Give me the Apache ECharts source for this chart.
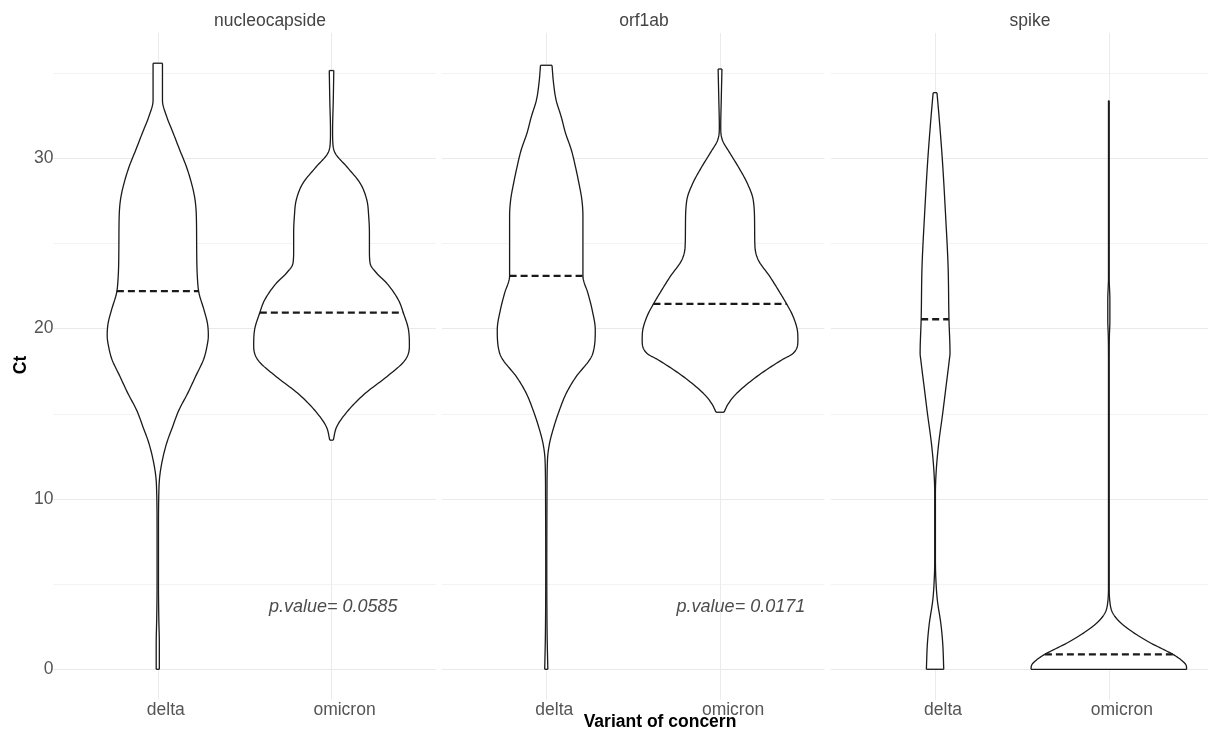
<!DOCTYPE html>
<html>
<head>
<meta charset="utf-8">
<title>Ct by variant of concern</title>
<script src="https://cdn.jsdelivr.net/npm/echarts@6/dist/echarts.min.js"></script>
<style>
  html, body { margin: 0; padding: 0; background: #ffffff; }
  #chart { width: 1208px; height: 731px; }
</style>
</head>
<body>
<div id="chart"></div>
<script>
// ---- data ----------------------------------------------------------------
const panels = ['nucleocapside', 'orf1ab', 'spike'];
const variants = ['delta', 'omicron'];
const yTickValues = [0, 5, 10, 15, 20, 25, 30, 35];
const yLabelValues = [0, 10, 20, 30];

// Violin outlines: [Ct, half-width in category units], bottom to top
const nucleocapsideDelta = [
  [0, 0.009], [1.5, 0.009], [3, 0.006], [5, 0.004], [8, 0.004], [10.3, 0.006],
  [11.3, 0.011], [12.3, 0.027], [13.3, 0.052], [14.2, 0.084], [15.2, 0.121],
  [16.2, 0.172], [17.2, 0.218], [18.2, 0.264], [18.8, 0.280], [19.6, 0.291],
  [20.3, 0.286], [21.1, 0.266], [22.1, 0.237], [23.0, 0.228], [24.6, 0.224],
  [26.6, 0.222], [27.6, 0.214], [28.5, 0.195], [29.5, 0.165], [30.5, 0.126],
  [31.5, 0.088], [32.4, 0.053], [33.4, 0.027], [34.4, 0.027], [35.58, 0.027]
];
const nucleocapsideOmicron = [
  [13.45, 0.010], [14.24, 0.030], [15.22, 0.098], [16.2, 0.194], [17.18, 0.318],
  [18.16, 0.424], [18.95, 0.448], [19.92, 0.443], [20.9, 0.414], [21.68, 0.385],
  [22.66, 0.318], [23.25, 0.260], [23.83, 0.222], [24.6, 0.218], [25.6, 0.218],
  [26.57, 0.214], [27.55, 0.203], [28.53, 0.165], [29.5, 0.088], [30.3, 0.021],
  [31.0, 0.007], [31.6, 0.006], [33.4, 0.010], [35.15, 0.013]
];
const orf1abDelta = [
  [0, 0.009], [2, 0.005], [6, 0.003], [10, 0.004], [12.29, 0.007], [13.27, 0.019],
  [14.24, 0.044], [15.22, 0.076], [16.2, 0.115], [17.18, 0.172], [18.16, 0.249],
  [18.55, 0.268], [19.92, 0.282], [21.1, 0.264], [22.07, 0.240], [23.09, 0.211],
  [24.1, 0.211], [26.6, 0.211], [27.55, 0.205], [28.53, 0.188], [29.5, 0.168],
  [30.5, 0.144], [31.47, 0.111], [32.44, 0.086], [33.4, 0.057], [34.4, 0.042],
  [35.46, 0.033]
];
const orf1abOmicron = [
  [15.09, 0.023], [15.6, 0.048], [16.2, 0.096], [17.18, 0.211], [18.16, 0.355],
  [18.55, 0.421], [19.3, 0.448], [19.73, 0.447], [20.7, 0.421], [21.45, 0.383],
  [22.27, 0.335], [23.05, 0.287], [24.03, 0.220], [24.8, 0.201], [26.0, 0.199],
  [27.55, 0.191], [28.53, 0.157], [29.5, 0.105], [30.3, 0.057], [31.08, 0.013],
  [31.86, 0.004], [33.4, 0.007], [35.24, 0.011]
];
const spikeDelta = [
  [0, 0.050], [1.53, 0.044], [2.7, 0.033], [4.07, 0.013], [5.44, 0.004],
  [6.5, 0.002], [10.3, 0.002], [11.7, 0.007], [13.27, 0.021], [15.03, 0.044],
  [16.59, 0.063], [18.16, 0.082], [18.55, 0.086], [20.55, 0.080], [23.64, 0.075],
  [26.57, 0.061], [29.9, 0.042], [32.44, 0.023], [33.85, 0.011]
];
const spikeOmicron = [
  [0, 0.448], [0.25, 0.444], [0.55, 0.416], [0.88, 0.368], [1.53, 0.243],
  [2.11, 0.148], [2.7, 0.071], [3.29, 0.023], [3.87, 0.007], [5, 0.002],
  [18, 0.002], [19.5, 0.003], [20.5, 0.006], [21.7, 0.006], [23, 0.002],
  [33.38, 0.002]
];

// Median Ct per panel: [delta, omicron]
const medianCt = [[22.2, 20.94], [23.09, 21.45], [20.55, 0.88]];

// Test annotations (nucleocapside, orf1ab)
const pValueText = ['p.value= 0.0585', 'p.value= 0.0171'];
const pValueX = [1.01, 1.12];
const pValueCt = 3.66;

const profiles = [
  [nucleocapsideDelta, nucleocapsideOmicron],
  [orf1abDelta, orf1abOmicron],
  [spikeDelta, spikeOmicron]
];

// ---- layout & style --------------------------------------------------------
const FONT = "'Liberation Sans', Arial, Helvetica, sans-serif";
const panelLeft = [53.5, 442, 830.8];
const panelWidth = 382.3;
const panelTop = 32.9;
const panelHeight = 666.7;
const yMin = -1.78, yMax = 37.36;
const OUTLINE = '#1a1a1a';

// Monotone (Fritsch-Carlson) cubic through an outline, so the drawn edge
// is smooth without overshooting the listed half-widths.
function monotoneCurve(profile) {
  const n = profile.length;
  const x = profile.map(p => p[0]);
  const y = profile.map(p => p[1]);
  const d = [];
  for (let k = 0; k < n - 1; k++) d.push((y[k + 1] - y[k]) / (x[k + 1] - x[k]));
  const m = new Array(n);
  m[0] = d[0];
  m[n - 1] = d[n - 2];
  for (let k = 1; k < n - 1; k++) {
    m[k] = d[k - 1] * d[k] <= 0 ? 0 : (d[k - 1] + d[k]) / 2;
  }
  for (let k = 0; k < n - 1; k++) {
    if (d[k] === 0) { m[k] = 0; m[k + 1] = 0; continue; }
    const a = m[k] / d[k], b = m[k + 1] / d[k];
    const s = a * a + b * b;
    if (s > 9) {
      const t = 3 / Math.sqrt(s);
      m[k] = t * a * d[k];
      m[k + 1] = t * b * d[k];
    }
  }
  function at(ct) {
    let k = 0;
    while (k < n - 2 && ct > x[k + 1]) k++;
    const h = x[k + 1] - x[k];
    const t = Math.min(1, Math.max(0, (ct - x[k]) / h));
    const t2 = t * t, t3 = t2 * t;
    return (2 * t3 - 3 * t2 + 1) * y[k] + (t3 - 2 * t2 + t) * h * m[k] +
           (-2 * t3 + 3 * t2) * y[k + 1] + (t3 - t2) * h * m[k + 1];
  }
  const pts = [];
  for (let k = 0; k < n - 1; k++) {
    const steps = 10;
    for (let s = 0; s < steps; s++) {
      const ct = x[k] + (x[k + 1] - x[k]) * s / steps;
      pts.push([ct, Math.max(0, at(ct))]);
    }
  }
  pts.push([x[n - 1], y[n - 1]]);
  return { points: pts, at: at };
}

const curves = profiles.map(pair => pair.map(monotoneCurve));

const grids = panels.map((_, p) => ({
  left: panelLeft[p], top: panelTop, width: panelWidth, height: panelHeight,
  containLabel: false, outerBoundsMode: 'none'
}));

const xAxes = panels.map((_, p) => ({
  gridIndex: p, type: 'value', min: -0.6, max: 1.6,
  axisLine: { show: false },
  axisTick: { show: false, customValues: [0, 1] },
  axisLabel: {
    customValues: [0, 1],
    margin: 2,
    formatter: v => (v === 0 ? '{d|' + variants[0] + '}' : '{o|' + variants[1] + '}'),
    rich: {
      d: { fontFamily: FONT, fontSize: 17.5, color: '#555555', padding: [0, 0, 0, 16] },
      o: { fontFamily: FONT, fontSize: 17.5, color: '#555555', padding: [0, 0, 0, 26] }
    }
  },
  splitLine: { show: true, lineStyle: { color: '#ebebeb', width: 1 } }
}));

const yAxes = panels.map((_, p) => ({
  gridIndex: p, type: 'value', min: yMin, max: yMax,
  axisLine: { show: false },
  axisTick: { show: false, customValues: yTickValues },
  axisLabel: {
    show: p === 0, customValues: yLabelValues, margin: 0,
    fontFamily: FONT, fontSize: 17.5, color: '#555555'
  },
  splitLine: { show: true, lineStyle: { color: ['#e9e9e9', '#f3f3f3'], width: 1 } }
}));

const violinSeries = panels.map((name, p) => ({
  type: 'custom', name: name,
  xAxisIndex: p, yAxisIndex: p,
  silent: true,
  data: variants.map((v, i) => [i, medianCt[p][i]]),
  renderItem: (params, api) => {
    const i = api.value(0);
    const med = api.value(1);
    const curve = curves[p][i];
    const right = curve.points.map(([ct, hw]) => api.coord([i + hw, ct]));
    const left = curve.points.map(([ct, hw]) => api.coord([i - hw, ct]));
    const n = right.length - 1;
    const mhw = curve.at(med);
    const a = api.coord([i - mhw, med]);
    const b = api.coord([i + mhw, med]);
    const edge = { stroke: OUTLINE, lineWidth: 1.3, fill: null, lineJoin: 'round' };
    return {
      type: 'group',
      children: [
        { type: 'polygon', shape: { points: right.concat(left.slice().reverse()) },
          style: { fill: '#ffffff', stroke: null } },
        { type: 'polyline', shape: { points: right }, style: edge },
        { type: 'polyline', shape: { points: left }, style: edge },
        { type: 'line', shape: { x1: left[0][0], y1: left[0][1], x2: right[0][0], y2: right[0][1] }, style: edge },
        { type: 'line', shape: { x1: left[n][0], y1: left[n][1], x2: right[n][0], y2: right[n][1] }, style: edge },
        { type: 'line', shape: { x1: a[0], y1: a[1], x2: b[0], y2: b[1] },
          style: { stroke: OUTLINE, lineWidth: 2.3, lineDash: [7, 4], fill: null } }
      ]
    };
  }
}));

const annotationSeries = pValueText.map((txt, p) => ({
  type: 'custom', name: 'p-value ' + panels[p],
  xAxisIndex: p, yAxisIndex: p,
  silent: true, z: 5,
  data: [[pValueX[p], pValueCt]],
  renderItem: (params, api) => {
    const c = api.coord([api.value(0), api.value(1)]);
    return {
      type: 'text', x: c[0], y: c[1],
      style: {
        text: txt, fill: '#4d4d4d',
        font: 'italic 18px ' + FONT,
        align: 'center', verticalAlign: 'middle'
      }
    };
  }
}));

const stripTitleX = [270, 644, 1030];
const graphics = panels.map((name, p) => ({
  type: 'text', x: stripTitleX[p], y: 21, silent: true,
  style: { text: name, fill: '#444444', font: '17.5px ' + FONT, align: 'center', verticalAlign: 'middle' }
})).concat([
  { type: 'text', x: 21, y: 365, rotation: Math.PI / 2, silent: true,
    style: { text: 'Ct', fill: '#000000', font: 'bold 17.5px ' + FONT, align: 'center', verticalAlign: 'middle' } },
  { type: 'text', x: 660, y: 722, silent: true,
    style: { text: 'Variant of concern', fill: '#000000', font: 'bold 17.5px ' + FONT, align: 'center', verticalAlign: 'middle' } }
]);

const chart = echarts.init(document.getElementById('chart'), null, { renderer: 'canvas' });
chart.setOption({
  animation: false,
  backgroundColor: '#ffffff',
  textStyle: { fontFamily: FONT },
  grid: grids,
  xAxis: xAxes,
  yAxis: yAxes,
  series: violinSeries.concat(annotationSeries),
  graphic: graphics
});
</script>
</body>
</html>
